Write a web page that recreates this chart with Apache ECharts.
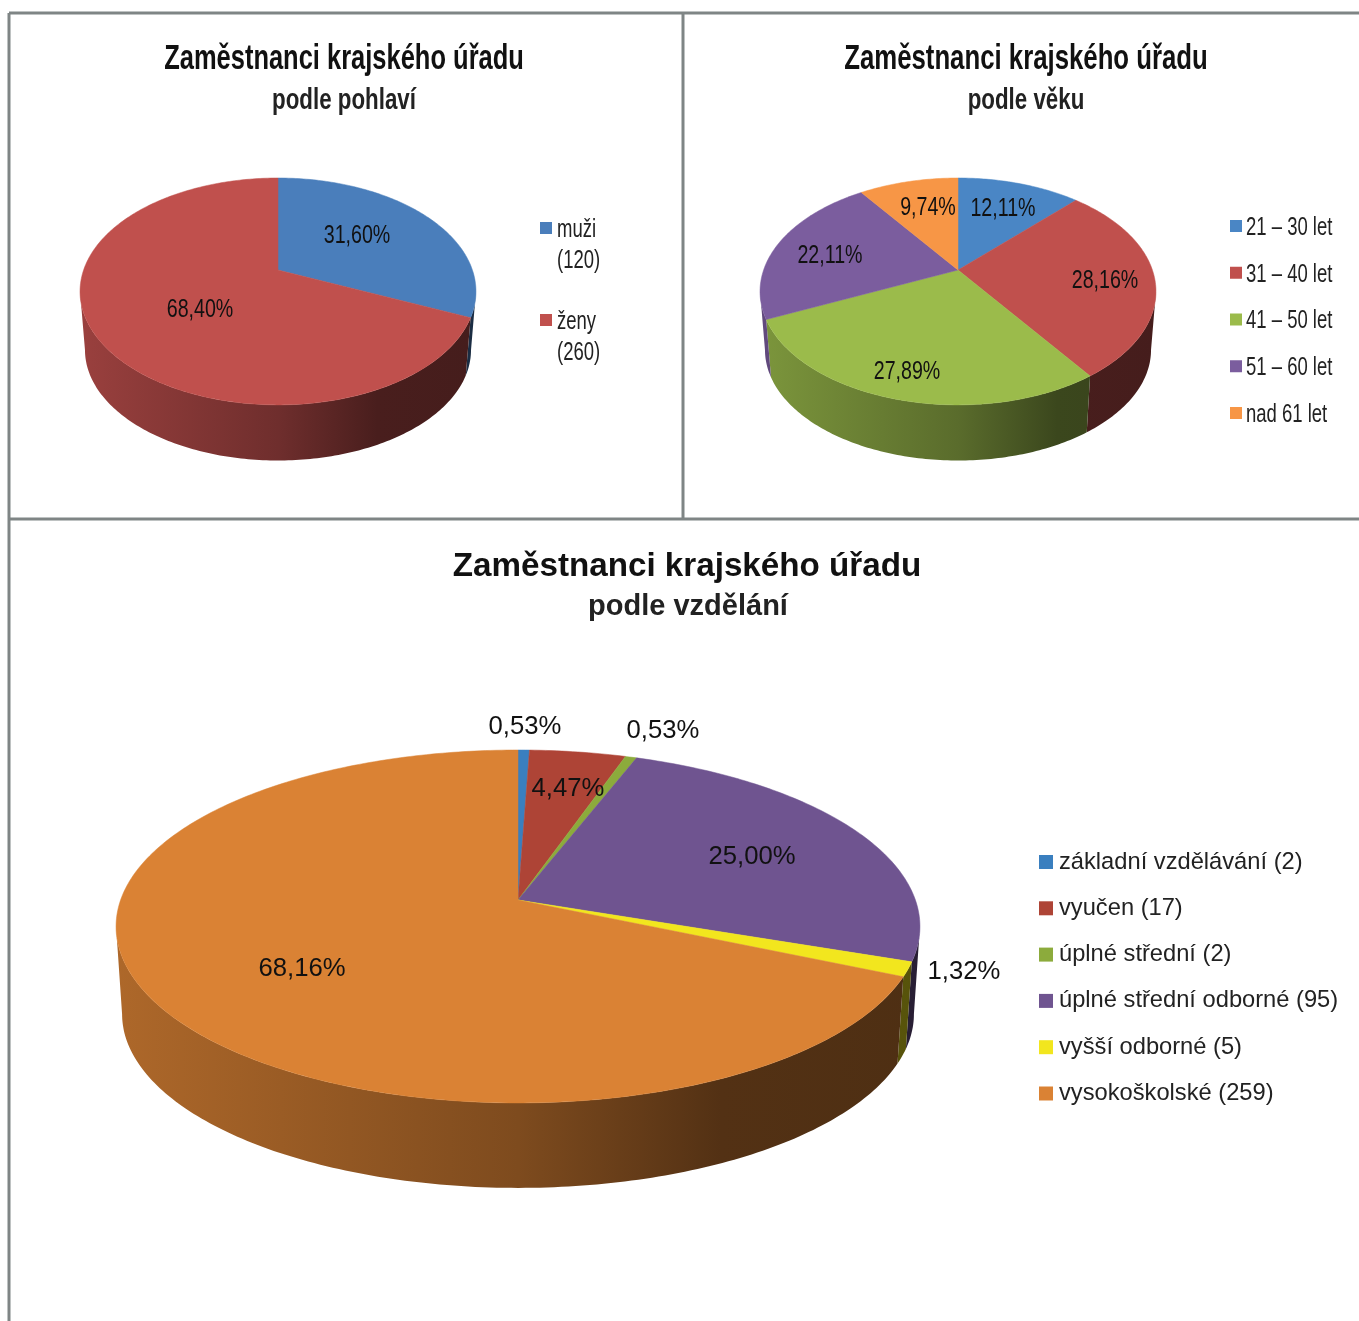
<!DOCTYPE html>
<html>
<head>
<meta charset="utf-8">
<title>Zaměstnanci krajského úřadu</title>
<script src="https://cdn.jsdelivr.net/npm/echarts@6/dist/echarts.min.js"></script>
<style>
html, body { margin: 0; padding: 0; background: #fff; }
#chart { width: 1359px; height: 1321px; }
</style>
</head>
<body>
<div id="chart"></div>
<script>
const chartTitle = 'Zaměstnanci krajského úřadu'
const subTitles = ['podle pohlaví', 'podle věku', 'podle vzdělání']

const genderNames = ['muži', 'ženy']
const genderCounts = ['(120)', '(260)']
const genderValues = [31.6, 68.4]
const genderColors = ['#4a7ebb', '#c0504d']

const ageNames = ['21 – 30 let', '31 – 40 let', '41 – 50 let', '51 – 60 let', 'nad 61 let']
const ageValues = [12.11, 28.16, 27.89, 22.11, 9.74]
const ageColors = ['#4a86c5', '#c0504d', '#9bbb4b', '#7b5d9e', '#f79646']

const eduNames = ['základní vzdělávání (2)', 'vyučen (17)', 'úplné střední (2)', 'úplné střední odborné (95)', 'vyšší odborné (5)', 'vysokoškolské (259)']
const eduValues = [0.53, 4.47, 0.53, 25.0, 1.32, 68.16]
const eduColors = ['#3a7fbf', '#ae4436', '#8cab3c', '#6f5490', '#f2e61e', '#da8234']

const sans = '"Liberation Sans", sans-serif'
// the two upper charts are squeezed sideways in the original
const squeeze = 0.74

// p = perspective, s = how much the lower rim shrinks, h = wall height
const pies = [
	{ names: genderNames, values: genderValues, colors: genderColors, cx: 278, cy: 270, a: 194.4, b: 109.4, p: 0.189, h: 59, s: 0.975,
		font: '25px ' + sans, labelScale: 0.785, labels: [[357, 236], [200, 310]] },
	{ names: ageNames, values: ageValues, colors: ageColors, cx: 958, cy: 270, a: 194.4, b: 109.4, p: 0.189, h: 59, s: 0.975,
		font: '25px ' + sans, labelScale: 0.785, labels: [[1003, 209], [1105, 281], [907, 372], [830, 256], [928, 208]] },
	{ names: eduNames, values: eduValues, colors: eduColors, cx: 518, cy: 900, a: 397.4, b: 172.5, p: 0.15, h: 88, s: 0.985,
		font: '25.7px ' + sans, labelScale: 1, labels: [[525, 727], [568, 789], [663, 731], [752, 857], [964, 972], [302, 969]] }
]

function shade(color, k) {
	let c = echarts.color.parse(color)
	return 'rgb(' + Math.round(c[0] * k) + ',' + Math.round(c[1] * k) + ',' + Math.round(c[2] * k) + ')'
}

function rim(pie, pct, lower) {
	let t = pct / 100 * 2 * Math.PI
	let u = Math.sin(t)
	let v = -Math.cos(t)
	let d = 1 - pie.p * v
	let x = pie.a * u / d
	let y = pie.b * v / d
	if (lower) return [pie.cx + x * pie.s, pie.cy + y * pie.s + pie.h]
	return [pie.cx + x, pie.cy + y]
}

function arc(pie, from, to, lower) {
	let points = []
	let steps = Math.max(2, Math.ceil((to - from) * 4))
	for (let i = 0; i <= steps; i++) {
		points.push(rim(pie, from + (to - from) * i / steps, lower))
	}
	return points
}

function sliceSeries(pie, index) {
	let total = pie.values.reduce((a, b) => a + b, 0)
	let before = pie.values.slice(0, index).reduce((a, b) => a + b, 0)
	let color = pie.colors[index]
	// only this part of the rim faces the viewer
	let frontFrom = Math.acos(-pie.p) / (2 * Math.PI) * 100
	let frontTo = 100 - frontFrom
	return {
		type: 'custom',
		name: pie.names[index],
		coordinateSystem: 'none',
		silent: true,
		itemStyle: { color: color },
		data: [[pie.values[index]]],
		renderItem: function (params, api) {
			let from = before / total * 100
			let to = (before + api.value(0)) / total * 100
			let w = pie.a * 1.02
			let children = []
			let wallFrom = Math.max(from, frontFrom)
			let wallTo = Math.min(to, frontTo)
			if (wallTo > wallFrom) {
				children.push({
					type: 'polygon',
					z2: 1,
					shape: { points: arc(pie, wallFrom, wallTo, false).concat(arc(pie, wallFrom, wallTo, true).reverse()) },
					style: {
						fill: {
							type: 'linear',
							global: true,
							x: pie.cx - w,
							y: 0,
							x2: pie.cx + w,
							y2: 0,
							colorStops: [
								{ offset: 0, color: shade(color, 0.8) },
								{ offset: 0.5, color: shade(color, 0.58) },
								{ offset: 0.75, color: shade(color, 0.38) },
								{ offset: 1, color: shade(color, 0.36) }
							]
						}
					}
				})
			}
			children.push({
				type: 'polygon',
				z2: 10,
				shape: { points: [[pie.cx, pie.cy]].concat(arc(pie, from, to, false)) },
				style: { fill: color, stroke: color, lineWidth: 0.5 }
			})
			let label = pie.labels[index]
			children.push({
				type: 'text',
				z2: 100,
				x: label[0],
				y: label[1],
				scaleX: pie.labelScale,
				style: {
					text: api.value(0).toFixed(2).replace('.', ',') + '%',
					font: pie.font,
					fill: '#111',
					align: 'center',
					verticalAlign: 'middle'
				}
			})
			return { type: 'group', children: children }
		}
	}
}

function border(x1, y1, x2, y2) {
	return {
		type: 'line',
		silent: true,
		shape: { x1: x1, y1: y1, x2: x2, y2: y2 },
		style: { stroke: '#7f8585', lineWidth: 3 }
	}
}

function centered(text, x, y, font, scale, fill) {
	return {
		type: 'text',
		silent: true,
		x: x,
		y: y,
		scaleX: scale,
		style: { text: text, font: font, fill: fill, align: 'center', verticalAlign: 'middle' }
	}
}

function legendText(text, x, y) {
	return {
		type: 'text',
		silent: true,
		x: x,
		y: y,
		scaleX: squeeze,
		style: { text: text, font: '25px ' + sans, fill: '#222', verticalAlign: 'middle' }
	}
}

let series = []
pies.forEach(pie => {
	pie.values.forEach((v, i) => series.push(sliceSeries(pie, i)))
})

let graphics = [
	border(9, 13, 1359, 13),
	border(9, 13, 9, 1321),
	border(683, 13, 683, 519),
	border(9, 519, 1359, 519),
	centered(chartTitle, 344, 59, 'bold 35px ' + sans, 0.728, '#111'),
	centered(subTitles[0], 344, 101, 'bold 29px ' + sans, 0.77, '#222'),
	centered(chartTitle, 1026, 59, 'bold 35px ' + sans, 0.736, '#111'),
	centered(subTitles[1], 1026, 101, 'bold 29px ' + sans, 0.77, '#222'),
	centered(chartTitle, 687, 567, 'bold 33.2px ' + sans, 1, '#111'),
	centered(subTitles[2], 688, 607, 'bold 29px ' + sans, 1, '#222')
]
genderNames.forEach((name, i) => {
	graphics.push(legendText(name, 557, 230 + i * 92))
	graphics.push(legendText(genderCounts[i], 557, 261 + i * 92))
})
ageNames.forEach((name, i) => {
	graphics.push(legendText(name, 1246, 228 + i * 46.75))
})

let chart = echarts.init(document.getElementById('chart'))
chart.setOption({
	animation: false,
	backgroundColor: '#fff',
	legend: [
		{
			data: genderNames, selectedMode: false, orient: 'vertical', left: 540, top: 222, padding: 0,
			itemWidth: 12, itemHeight: 12, itemGap: 80, icon: 'rect', formatter: () => ''
		},
		{
			data: ageNames, selectedMode: false, orient: 'vertical', left: 1230, top: 220, padding: 0,
			itemWidth: 12, itemHeight: 12, itemGap: 34.75, icon: 'rect', formatter: () => ''
		},
		{
			data: eduNames, selectedMode: false, orient: 'vertical', left: 1039, top: 850, padding: 0,
			itemWidth: 14, itemHeight: 14, itemGap: 22.3, icon: 'rect',
			textStyle: { fontFamily: sans, fontSize: 23.7, color: '#222', padding: [0, 0, 0, 1] }
		}
	],
	graphic: graphics,
	series: series
})
</script>
</body>
</html>
